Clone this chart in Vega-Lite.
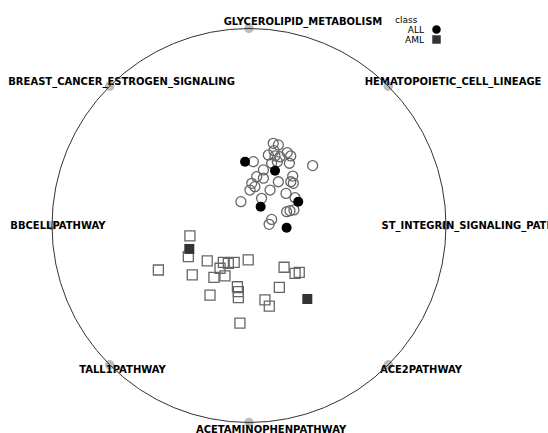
{
  "$schema": "https://vega.github.io/schema/vega-lite/v6.json",
  "width": 548,
  "height": 433,
  "autosize": "none",
  "padding": 0,
  "background": "white",
  "view": {"stroke": null},
  "datasets": {
    "frame": [{"x": 0, "y": 0}],
    "anchors": [
      {"name": "GLYCEROLIPID_METABOLISM", "x": 0, "y": 1, "labelX": 0.274, "labelY": 1.033},
      {"name": "HEMATOPOIETIC_CELL_LINEAGE", "x": 0.7071, "y": 0.7071, "labelX": 1.036, "labelY": 0.728},
      {"name": "ST_INTEGRIN_SIGNALING_PATHWAY", "x": 1, "y": 0, "labelX": 1.175, "labelY": -0.003},
      {"name": "ACE2PATHWAY", "x": 0.7071, "y": -0.7071, "labelX": 0.873, "labelY": -0.734},
      {"name": "ACETAMINOPHENPATHWAY", "x": 0, "y": -1, "labelX": 0.112, "labelY": -1.038},
      {"name": "TALL1PATHWAY", "x": -0.7071, "y": -0.7071, "labelX": -0.642, "labelY": -0.734},
      {"name": "BBCELLPATHWAY", "x": -1, "y": 0, "labelX": -0.97, "labelY": -0.003},
      {"name": "BREAST_CANCER_ESTROGEN_SIGNALING", "x": -0.7071, "y": 0.7071, "labelX": -0.647, "labelY": 0.728}
    ],
    "points": [
      {"x": 0.123, "y": 0.417, "class": "ALL", "highlight": "no"},
      {"x": 0.149, "y": 0.409, "class": "ALL", "highlight": "no"},
      {"x": 0.127, "y": 0.38, "class": "ALL", "highlight": "no"},
      {"x": 0.098, "y": 0.358, "class": "ALL", "highlight": "no"},
      {"x": 0.132, "y": 0.353, "class": "ALL", "highlight": "no"},
      {"x": 0.157, "y": 0.349, "class": "ALL", "highlight": "no"},
      {"x": 0.194, "y": 0.37, "class": "ALL", "highlight": "no"},
      {"x": 0.212, "y": 0.353, "class": "ALL", "highlight": "no"},
      {"x": 0.115, "y": 0.316, "class": "ALL", "highlight": "no"},
      {"x": 0.144, "y": 0.324, "class": "ALL", "highlight": "no"},
      {"x": 0.022, "y": 0.324, "class": "ALL", "highlight": "no"},
      {"x": 0.205, "y": 0.316, "class": "ALL", "highlight": "no"},
      {"x": 0.323, "y": 0.304, "class": "ALL", "highlight": "no"},
      {"x": 0.073, "y": 0.282, "class": "ALL", "highlight": "no"},
      {"x": 0.039, "y": 0.248, "class": "ALL", "highlight": "no"},
      {"x": 0.073, "y": 0.24, "class": "ALL", "highlight": "no"},
      {"x": 0.014, "y": 0.214, "class": "ALL", "highlight": "no"},
      {"x": 0.03, "y": 0.197, "class": "ALL", "highlight": "no"},
      {"x": 0.005, "y": 0.18, "class": "ALL", "highlight": "no"},
      {"x": 0.107, "y": 0.18, "class": "ALL", "highlight": "no"},
      {"x": 0.149, "y": 0.222, "class": "ALL", "highlight": "no"},
      {"x": 0.222, "y": 0.251, "class": "ALL", "highlight": "no"},
      {"x": 0.212, "y": 0.222, "class": "ALL", "highlight": "no"},
      {"x": 0.225, "y": 0.214, "class": "ALL", "highlight": "no"},
      {"x": -0.041, "y": 0.121, "class": "ALL", "highlight": "no"},
      {"x": 0.064, "y": 0.138, "class": "ALL", "highlight": "no"},
      {"x": 0.188, "y": 0.163, "class": "ALL", "highlight": "no"},
      {"x": 0.234, "y": 0.141, "class": "ALL", "highlight": "no"},
      {"x": 0.191, "y": 0.07, "class": "ALL", "highlight": "no"},
      {"x": 0.208, "y": 0.075, "class": "ALL", "highlight": "no"},
      {"x": 0.228, "y": 0.079, "class": "ALL", "highlight": "no"},
      {"x": 0.115, "y": 0.031, "class": "ALL", "highlight": "no"},
      {"x": 0.102, "y": 0.006, "class": "ALL", "highlight": "no"},
      {"x": -0.02, "y": 0.324, "class": "ALL", "highlight": "yes"},
      {"x": 0.132, "y": 0.278, "class": "ALL", "highlight": "yes"},
      {"x": 0.25, "y": 0.121, "class": "ALL", "highlight": "yes"},
      {"x": 0.059, "y": 0.095, "class": "ALL", "highlight": "yes"},
      {"x": 0.191, "y": -0.011, "class": "ALL", "highlight": "yes"},
      {"x": -0.3, "y": -0.053, "class": "AML", "highlight": "no"},
      {"x": -0.308, "y": -0.158, "class": "AML", "highlight": "no"},
      {"x": -0.46, "y": -0.226, "class": "AML", "highlight": "no"},
      {"x": -0.288, "y": -0.251, "class": "AML", "highlight": "no"},
      {"x": -0.212, "y": -0.18, "class": "AML", "highlight": "no"},
      {"x": -0.13, "y": -0.187, "class": "AML", "highlight": "no"},
      {"x": -0.105, "y": -0.192, "class": "AML", "highlight": "no"},
      {"x": -0.075, "y": -0.187, "class": "AML", "highlight": "no"},
      {"x": -0.004, "y": -0.175, "class": "AML", "highlight": "no"},
      {"x": -0.147, "y": -0.217, "class": "AML", "highlight": "no"},
      {"x": -0.178, "y": -0.263, "class": "AML", "highlight": "no"},
      {"x": -0.122, "y": -0.256, "class": "AML", "highlight": "no"},
      {"x": -0.198, "y": -0.353, "class": "AML", "highlight": "no"},
      {"x": -0.059, "y": -0.311, "class": "AML", "highlight": "no"},
      {"x": -0.054, "y": -0.336, "class": "AML", "highlight": "no"},
      {"x": -0.054, "y": -0.366, "class": "AML", "highlight": "no"},
      {"x": -0.046, "y": -0.496, "class": "AML", "highlight": "no"},
      {"x": 0.178, "y": -0.212, "class": "AML", "highlight": "no"},
      {"x": 0.234, "y": -0.243, "class": "AML", "highlight": "no"},
      {"x": 0.255, "y": -0.238, "class": "AML", "highlight": "no"},
      {"x": 0.154, "y": -0.314, "class": "AML", "highlight": "no"},
      {"x": 0.081, "y": -0.378, "class": "AML", "highlight": "no"},
      {"x": 0.103, "y": -0.409, "class": "AML", "highlight": "no"},
      {"x": -0.303, "y": -0.119, "class": "AML", "highlight": "yes"},
      {"x": 0.296, "y": -0.373, "class": "AML", "highlight": "yes"}
    ]
  },
  "resolve": {"scale": {"x": "shared", "y": "shared"}},
  "layer": [
    {
      "data": {"name": "anchors"},
      "mark": {"type": "point", "filled": true, "size": 90, "color": "#999999", "opacity": 0.65},
      "encoding": {
        "x": {"field": "x", "type": "quantitative", "axis": null, "scale": {"domain": [-1.26396, 1.51777], "zero": false, "nice": false}},
        "y": {"field": "y", "type": "quantitative", "axis": null, "scale": {"domain": [-1.0533, 1.14467], "zero": false, "nice": false}}
      }
    },
    {
      "data": {"name": "anchors"},
      "mark": {"type": "text", "font": "DejaVu Sans", "fontSize": 10, "fontWeight": "bold", "color": "#000000", "align": "center", "baseline": "middle"},
      "encoding": {
        "x": {"field": "labelX", "type": "quantitative"},
        "y": {"field": "labelY", "type": "quantitative"},
        "text": {"field": "name", "type": "nominal"}
      }
    },
    {
      "data": {"name": "frame"},
      "mark": {"type": "point", "shape": "circle", "filled": false, "size": 155236, "stroke": "#333333", "strokeWidth": 1, "opacity": 1},
      "encoding": {
        "x": {"field": "x", "type": "quantitative"},
        "y": {"field": "y", "type": "quantitative"}
      }
    },
    {
      "data": {"name": "points"},
      "transform": [{"filter": "datum.highlight === 'no'"}],
      "mark": {"type": "point", "filled": false, "size": 100, "strokeWidth": 1.3, "opacity": 1, "color": "#666666"},
      "encoding": {
        "x": {"field": "x", "type": "quantitative"},
        "y": {"field": "y", "type": "quantitative"},
        "shape": {"field": "class", "type": "nominal", "scale": {"domain": ["ALL", "AML"], "range": ["circle", "square"]}}
      }
    },
    {
      "data": {"name": "points"},
      "transform": [{"filter": "datum.highlight === 'yes'"}],
      "mark": {"type": "point", "filled": true, "size": 100, "opacity": 1},
      "encoding": {
        "x": {"field": "x", "type": "quantitative"},
        "y": {"field": "y", "type": "quantitative"},
        "shape": {"field": "class", "type": "nominal", "title": "class"},
        "color": {
          "field": "class", "type": "nominal", "title": "class",
          "scale": {"domain": ["ALL", "AML"], "range": ["#000000", "#333333"]},
          "legend": {"encode": {"title": {"update": {"dx": {"value": -37}}}}}
        }
      }
    }
  ],
  "config": {
    "font": "DejaVu Sans",
    "legend": {
      "orient": "none", "legendX": 395, "legendY": 16, "padding": 0,
      "titleFont": "DejaVu Sans", "titleFontSize": 9, "titleFontWeight": "normal", "titleColor": "#000000", "titlePadding": 0,
      "labelFont": "DejaVu Sans", "labelFontSize": 9, "labelColor": "#000000", "labelAlign": "right", "labelOffset": -17,
      "symbolSize": 72, "rowPadding": 0, "symbolStrokeWidth": 0, "symbolOpacity": 1
    }
  }
}
